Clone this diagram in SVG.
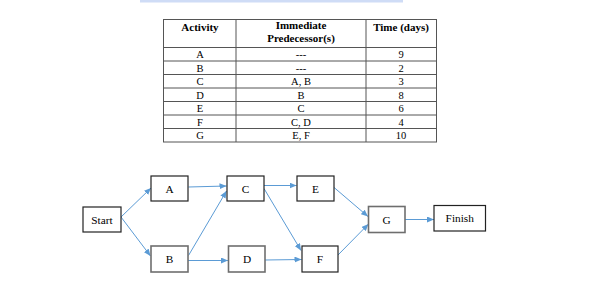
<svg xmlns="http://www.w3.org/2000/svg" width="595" height="304" viewBox="0 0 595 304">
<style>
.tb{fill:none;stroke:#555;stroke-width:1}
.th{font-family:"Liberation Serif","Times New Roman",serif;font-weight:bold;font-size:11px;fill:#000;text-anchor:middle}
.td{font-family:"Liberation Serif","Times New Roman",serif;font-size:10.5px;fill:#000;text-anchor:middle}
.nb{fill:#fff;stroke:#222;stroke-width:1.2}
.ng{fill:#fff;stroke:#6e6e6e;stroke-width:1.6}
.nt{font-family:"Liberation Serif","Times New Roman",serif;font-size:11.3px;fill:#000;text-anchor:middle}
.c{fill:none;stroke:#5b9bd5;stroke-width:1;marker-end:url(#ah)}
</style>
<defs>
<marker id="ah" markerWidth="8" markerHeight="6" refX="7" refY="3" orient="auto" markerUnits="userSpaceOnUse">
<path d="M0,0 L7,3 L0,6 z" fill="#5b9bd5"/>
</marker>
</defs>
<rect width="595" height="304" fill="#fff"/>
<rect x="140" y="0" width="263" height="2.5" fill="#cfdcf6"/>
<g id="table">
<rect class="tb" x="163.5" y="19.5" width="273" height="122.5"/>
<line class="tb" x1="163.5" y1="47.5" x2="436.5" y2="47.5" stroke-width="1.5"/>
<line class="tb" x1="163.5" y1="61" x2="436.5" y2="61"/>
<line class="tb" x1="163.5" y1="74.5" x2="436.5" y2="74.5"/>
<line class="tb" x1="163.5" y1="88" x2="436.5" y2="88"/>
<line class="tb" x1="163.5" y1="101.5" x2="436.5" y2="101.5"/>
<line class="tb" x1="163.5" y1="115" x2="436.5" y2="115"/>
<line class="tb" x1="163.5" y1="128.5" x2="436.5" y2="128.5"/>
<line class="tb" x1="236" y1="19.5" x2="236" y2="142"/>
<line class="tb" x1="366" y1="19.5" x2="366" y2="142"/>
<text class="th" x="200" y="31">Activity</text>
<text class="th" x="301" y="29">Immediate</text>
<text class="th" x="301" y="42">Predecessor(s)</text>
<text class="th" x="401" y="31">Time (days)</text>
<text class="td" x="200" y="58">A</text><text class="td" x="301" y="58">---</text><text class="td" x="401" y="58">9</text>
<text class="td" x="200" y="71.5">B</text><text class="td" x="301" y="71.5">---</text><text class="td" x="401" y="71.5">2</text>
<text class="td" x="200" y="85">C</text><text class="td" x="301" y="85">A, B</text><text class="td" x="401" y="85">3</text>
<text class="td" x="200" y="98.5">D</text><text class="td" x="301" y="98.5">B</text><text class="td" x="401" y="98.5">8</text>
<text class="td" x="200" y="112">E</text><text class="td" x="301" y="112">C</text><text class="td" x="401" y="112">6</text>
<text class="td" x="200" y="125.5">F</text><text class="td" x="301" y="125.5">C, D</text><text class="td" x="401" y="125.5">4</text>
<text class="td" x="200" y="139">G</text><text class="td" x="301" y="139">E, F</text><text class="td" x="401" y="139">10</text>
</g>
<g id="connectors">
<line class="c" x1="121" y1="217" x2="151" y2="188"/>
<line class="c" x1="121" y1="217" x2="150.5" y2="256"/>
<line class="c" x1="188.5" y1="187" x2="226.5" y2="186"/>
<line class="c" x1="188.5" y1="255.5" x2="226.5" y2="191"/>
<line class="c" x1="188" y1="260.5" x2="228" y2="260.5"/>
<line class="c" x1="264" y1="185.5" x2="296.5" y2="185.5"/>
<line class="c" x1="264" y1="188.5" x2="301" y2="250.5"/>
<line class="c" x1="265" y1="260" x2="301.5" y2="259.5"/>
<line class="c" x1="333.5" y1="187" x2="368" y2="216.5"/>
<line class="c" x1="338" y1="255" x2="368.5" y2="224"/>
<line class="c" x1="405" y1="219.5" x2="434" y2="219.5"/>
</g>
<g id="node-start"><rect class="nb" x="83" y="207" width="38" height="25"/><text class="nt" x="102" y="223.5">Start</text></g>
<g id="node-a"><rect class="nb" x="151" y="176" width="37" height="25"/><text class="nt" x="169.5" y="192.5">A</text></g>
<g id="node-b"><rect class="ng" x="151" y="246" width="37" height="26"/><text class="nt" x="169.5" y="263">B</text></g>
<g id="node-c"><rect class="nb" x="227" y="176" width="37" height="25"/><text class="nt" x="245.5" y="192.5">C</text></g>
<g id="node-d"><rect class="ng" x="228.5" y="246" width="36.5" height="26"/><text class="nt" x="247" y="263">D</text></g>
<g id="node-e"><rect class="nb" x="297" y="176" width="37" height="25"/><text class="nt" x="315.5" y="192.5">E</text></g>
<g id="node-f"><rect class="nb" x="302" y="246" width="36" height="26"/><text class="nt" x="320" y="263">F</text></g>
<g id="node-g"><rect class="ng" x="368.5" y="206.5" width="36.5" height="26"/><text class="nt" x="386.5" y="223.5">G</text></g>
<g id="node-finish"><rect class="nb" x="434" y="205.5" width="51.5" height="25.5"/><text class="nt" x="459.75" y="222">Finish</text></g>
</svg>
